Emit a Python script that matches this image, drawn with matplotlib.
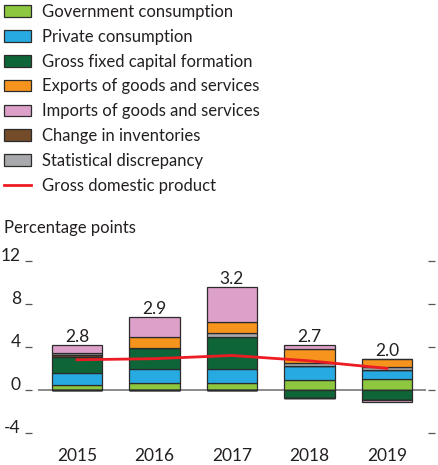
import numpy as np
import matplotlib
matplotlib.use("Agg")
import matplotlib.pyplot as plt
from matplotlib.patches import Patch
from matplotlib.lines import Line2D

plt.rcParams['font.family'] = ['Lato', 'DejaVu Sans']

years = ['2015', '2016', '2017', '2018', '2019']
gov = [0.50, 0.68, 0.62, 0.88, 0.99]
private = [1.05, 1.24, 1.30, 1.33, 0.86]
gfcf = [1.52, 1.95, 2.97, -0.77, -0.95]
inventories = [0.15, 0.0, 0.0, 0.0, 0.0]
stat = [0.20, 0.0, 0.37, 0.25, 0.30]
exports = [0.0, 1.00, 1.05, 1.38, 0.71]
imports = [0.72, 1.90, 3.25, 0.30, -0.20]
gdp = [2.8, 2.9, 3.2, 2.7, 2.0]

names = ['Government consumption', 'Private consumption',
         'Gross fixed capital formation', 'Exports of goods and services',
         'Imports of goods and services', 'Change in inventories',
         'Statistical discrepancy']
colors = {'Government consumption': '#8dc63f',
          'Private consumption': '#27aae1',
          'Gross fixed capital formation': '#0e6638',
          'Exports of goods and services': '#f7941d',
          'Imports of goods and services': '#dda0c8',
          'Change in inventories': '#754c29',
          'Statistical discrepancy': '#a7a9ac'}
# stacking order inside the bars
stack = [('Government consumption', gov), ('Private consumption', private),
         ('Gross fixed capital formation', gfcf),
         ('Change in inventories', inventories),
         ('Statistical discrepancy', stat),
         ('Exports of goods and services', exports),
         ('Imports of goods and services', imports)]

txt = '#231f20'
edge = '#2b2b2b'

fig = plt.figure(figsize=(4.39, 4.65), dpi=100)
ax = fig.add_axes([32/439, 1-433/465, 396/439, (433-260.7)/465])

x = np.arange(len(years))
pos_base = np.zeros(len(years))
neg_base = np.zeros(len(years))
for name, vals in stack:
    vals = np.array(vals)
    pos = np.where(vals > 0, vals, 0)
    neg = np.where(vals < 0, vals, 0)
    ax.bar(x, pos, 0.65, bottom=pos_base, color=colors[name],
           edgecolor=edge, linewidth=0.9, zorder=2)
    ax.bar(x, neg, 0.65, bottom=neg_base, color=colors[name],
           edgecolor=edge, linewidth=0.9, zorder=2)
    pos_base += pos
    neg_base += neg

ax.hlines(0, -0.5, 4.5, color='#777777', linewidth=1.2, zorder=1)
ax.plot(x, gdp, color='#ed1c24', linewidth=2.0, zorder=4)

for i in range(len(years)):
    ax.annotate('%.1f' % gdp[i], (x[i], pos_base[i]), xytext=(0, 2.5),
                textcoords='offset points', ha='center', va='baseline',
                fontsize=12.5, color=txt)

ax.set_xlim(-0.58, 4.53)
ax.set_ylim(-4, 12)
ax.set_yticks([-4, 0, 4, 8, 12])
ax.set_yticklabels(['-4', '0', '4', '8', '12'])
ax.set_xticks(x)
ax.set_xticklabels(years)
for s in ax.spines.values():
    s.set_visible(False)
ax.tick_params(axis='y', which='both', left=True, right=True, direction='out',
               length=5, width=0.9, color='#555555', labelsize=12.5,
               labelcolor=txt, pad=3)
for lbl in ax.get_yticklabels():
    lbl.set_verticalalignment('baseline')
ax.tick_params(axis='x', length=0, labelsize=12.5, labelcolor=txt, pad=11)

handles = [Patch(facecolor=colors[n], edgecolor=edge, linewidth=0.9) for n in names]
handles.append(Line2D([0], [0], color='#ed1c24', linewidth=2.0))
labels = names + ['Gross domestic product']
fig.legend(handles, labels, loc='upper left', bbox_to_anchor=(4/439, 1-4/465),
           frameon=False, fontsize=12, handlelength=1.65, handleheight=0.7,
           handletextpad=0.65, labelspacing=0.53, borderpad=0, borderaxespad=0,
           labelcolor=txt)

fig.text(4/439, 1-228/465, 'Percentage points', fontsize=12, color=txt,
         va='center', ha='left')

fig.savefig('out.png', dpi=100)
